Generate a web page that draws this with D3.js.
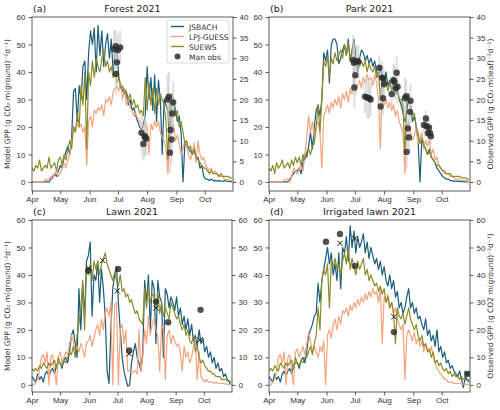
<!DOCTYPE html>
<html><head><meta charset="utf-8">
<script src="https://cdn.jsdelivr.net/npm/d3@7"></script>
<style>body{margin:0;background:#fff}svg{font-family:"DejaVu Sans",sans-serif}</style>
</head><body><svg id="c" width="500" height="410"></svg>
<script>
// ---- data: sampled every 2 days from Apr 1 (day 0) ----
const days = d3.range(0, 213, 2);
const monthTicks = [0, 30, 61, 91, 122, 153, 183];
const monthLabels = ["Apr","May","Jun","Jul","Aug","Sep","Oct"];
const leftTicks = [0,10,20,30,40,50,60];
const rightTicks40 = [0,5,10,15,20,25,30,35,40];
const rightTicks60 = [0,10,20,30,40,50,60];

const forestJSBACH = [0,0,0,0,0,0,0,0,0,0, 1,2,3,2,4, 6,5,9,11,13, 10,16,33,34,22, 35,30,42,44,30, 47,55,50,56,40, 57,46,55,42,50, 54,45,52,40,47, 49,38,35,33,34, 32,28,30,26,27, 24,22,20,19,21, 24,42,30,38,26, 39,22,37,30,10, 30,28,26,12,32, 30,26,22,24,18, 0,14,13,12,11, 10,12,8,9,5, 6,2,1,1,0.5, 1,0.5,0.5,0.3,0.5, 0.3,0.2,0.5,0.3,0.2,0.1,0];
const forestLPJ = [0,0,0,0,0,0,0,1,0.5,1, 2,1,3,4,2, 3,5,7,5,8, 10,14,20,19,21, 20,21,18,20,6, 22,24,20,26,25, 27,26,28,24,30, 29,31,28,33,34, 35,33,36,30,34, 28,30,27,26,24, 25,23,22,21,20, 22,20,10,21,19, 22,20,22,18,16, 15,12,3,18,20, 21,15,17,14,10, 12,15,13,10,8, 11,14,7,15,10, 8,9,6,5,4, 5,3,4,3,2, 2,2,1,1,1,0.5,0.5];
const forestSUEWS = [5,4,6,5,8,4,5,6,5,9, 5,6,7,4,8, 9,6,10,8,12, 15,12,20,18,25, 20,35,28,40,12, 40,35,44,38,45, 42,40,45,48,42, 44,40,42,38,40, 36,38,34,35,32, 33,30,32,28,30, 27,28,25,26,24, 38,26,36,28,34, 25,34,28,32,30, 28,22,8,30,32, 29,24,26,20,22, 18,14,15,12,13, 10,12,9,8,7, 6,5,5,4,3, 4,3,3,3,2, 3,2,2,2,2,1.5,1.5];
const forestObsDay = [87,88.7,91,93.5,90,89, 116,118,119.5,121,120, 143.7,145,149.6,148.6,146.9,147.9,146.2];
const forestObsVal = [32.2,32.9,32,32.6,29,26.2, 11.9,9.2,11.1,10.5,10.8, 20,20.7,19.3,16.6,12.6,10.3,7.1];
const forestObsErr = [4.5,4,4,4,5,5, 5,4,5,4,4, 6,6,5,5,6,6,5];

const parkJSBACH = [0,0,0,0,0,0,0,0,0,0, 0,1,2,3,4, 4,5,3,7,10, 9,13,18,12,20, 26,28,24,30,47, 44,48,36,50,52, 52,50,43,45,48, 50,46,52,44,48, 52,46,40,45,48, 47,44,46,43,45, 42,44,40,38,42, 38,36,40,35,37, 33,38,32,34,30, 28,25,22,26,30, 28,22,24,20,15, 0,16,14,12,10, 12,9,8,7,5, 4,3,2,1.5,1, 1,0.5,0.5,0.3,0.3, 0.2,0.2,0.1,0.1,0,0,0];
const parkLPJ = [0,0,0,0,0,0,0,0,0.5,1, 1,0,2,5,4, 3,5,6,4,10, 16,24,18,22,16, 20,22,18,5,24, 26,28,25,29,27, 30,28,31,27,32, 30,33,29,34,32, 36,33,35,37,34, 38,36,39,37,38, 35,39,36,30,12, 32,28,30,27,29, 26,28,24,26,22, 20,18,3,20,22, 18,15,17,20,14, 16,18,12,15,13, 15,10,12,8,9, 6,5,4,3,3, 3,2,2,1.5,1, 1,1,0.5,0.5,0.5,0.3,0.3];
const parkSUEWS = [5,4,6,3,7,5,6,8,5,6, 7,5,8,6,9, 7,9,6,10,8, 11,12,10,13,14, 20,28,18,30,44, 42,46,38,45,43, 47,44,46,48,45, 50,46,51,44,48, 46,43,45,42,44, 42,44,40,43,41, 40,42,38,40,30, 38,35,37,33,36, 34,36,32,33,30, 30,28,10,30,32, 28,24,25,20,18, 14,16,13,12,10, 11,9,8,7,6, 6,5,4,4,3, 3,3,2,2,2, 2,2,1.5,1.5,1.5,1,1];
const parkObsDay = [89.3,90,91.5,90.4,92.8,94.6, 101.7,104.2,106,107.7, 116.9,118.3,119.7,120.8,121.8,121.1, 130,131.8,132.8,134.2,135.3,136.3, 144,145.4,146,147.2,148.2,150,149.3, 164.2,166.3,167,168.4,169.5,170.6,171.6];
const parkObsVal = [29.6,28.9,25.9,22.9,29.2,29.2, 20.7,20.5,20.3,20, 27.7,18.3,25.3,20.3,23.7,25.1, 21.3,24.7,24.3,22.7,26.5,23.1, 20.3,20.8,7.3,13,10.8,19.7,17, 13.8,15.4,13.5,11.8,13.2,11.9,11.1];
const parkObsErr = [6,5,5,5,4,4, 4,5,5,4, 3,4,4,4,3,3, 3,4,4,3,4,4, 5,4,4,3,3,4,3, 2,2,2,2,2,2,2];

const lawnJSBACH = [3,2,1,4,2,3,1,4,5,3, 5,6,4,7,8, 8,6,9,10,8, 12,18,20,15,10, 35,20,37,25,45, 47,52,25,40,38, 45,30,42,35,25, 5,0.5,20,35,40, 43,30,20,10,5, 2,-0.5,0,8,12, 15,10,8,5,12, 38,30,40,20,38, 35,15,38,32,30, 10,35,33,28,32, 30,27,32,25,28, 22,25,20,24,18, 22,16,18,14,20, 15,17,12,14,10, 12,8,10,6,8, 5,6,3,4,2,1,0];
const lawnLPJ = [0,0,1,2,5,10,11,8,12,0, 10,11,5,0,10, 12,8,10,12,11, 15,18,16,12,14, 12,15,13,10,15, 16,18,14,17,20, 22,18,24,20,26, 28,25,30,0,29, 30,0,20,22,15, 20,5,5,4,5, 5,4,20,5,10, 20,15,25,18,22, 24,20,18,5,22, 20,2,18,20,15, 18,16,14,15,12, 5,14,10,12,8, 10,14,16,2,12, 3,2,1,2,1, 1,1,0.5,1,0.5, 0.5,0.5,0.5,0.3,0.3,0.2,0.2];
const lawnSUEWS = [6,5,6,5,7,6,8,7,6,8, 7,8,9,6,10, 8,7,9,8,10, 12,11,14,10,18, 22,28,38,20,42, 40,44,38,45,42, 45,40,44,46,48, 44,42,40,38,41, 38,36,40,34,35, 32,33,30,31,28, 26,27,24,23,22, 35,28,36,30,33, 32,28,34,26,30, 25,28,26,24,30, 28,26,24,25,22, 20,22,18,20,16, 15,18,12,14,10, 8,9,7,6,5, 5,4,4,3,3, 3,2,2,2,1.5,1.5,1];
const lawnObsDay = [60,91.8,103.5,132,145,179.5];
const lawnObsVal = [41.6,42.2,12.5,30.3,22.8,27.3];
const lawnCrossDay = [60.5,75.3,90.8,103.6,132,179];
const lawnCrossVal = [42.4,45.3,34.2,11.3,27.9,16.4];

const irrJSBACH = [3,2,1,4,2,3,1,4,5,3, 5,6,4,7,8, 8,6,9,10,8, 12,18,20,22,25, 26,37,30,38,42, 46,50,44,48,40, 44,38,48,35,50, 48,54,45,58,50, 56,48,54,50,52, 55,48,52,46,50, 47,44,46,42,45, 40,43,38,36,40, 35,38,32,34,28, 30,26,28,32,35, 28,30,26,28,24, 25,22,20,24,18, 20,16,18,14,20, 12,14,10,12,8, 9,6,7,5,4, 3,5,2,-1,3,2,1];
const irrLPJ = [0,0,1,2,5,10,11,8,12,0, 10,11,5,0,12, 13,10,12,14,11, 15,19,16,12,14, 12,10,14,12,16, 0,18,20,17,22, 24,20,25,22,27, 26,28,25,29,27, 30,28,31,29,32, 30,33,31,34,32, 35,33,34,30,35, 15,32,30,33,28, 30,26,28,24,22, 20,22,2,18,20, 18,16,19,15,17, 14,16,12,15,13, 12,14,10,8,6, 5,4,3,2,2, 1,1,1,0.5,0.5, 0.5,0.5,0.3,0.3,0.3,0.2,0.2];
const irrSUEWS = [5,6,5,7,6,5,8,7,6,8, 7,8,9,6,10, 8,7,9,8,10, 10,12,14,11,15, 18,28,20,38,42, 40,44,28,45,43, 46,42,44,40,45, 48,44,50,42,46, 43,40,45,42,44, 46,40,42,38,40, 38,36,37,34,36, 33,35,30,32,28, 30,26,15,28,25, 24,26,22,25,28, 24,22,20,22,18, 16,18,14,15,12, 13,10,12,8,9, 7,8,6,5,6, 4,5,3,4,3, 3,2,3,2,2,1.5,2];
const irrObsDay = [60.4,75.2,91.1,132.4,210];
const irrObsVal = [52.1,54.9,43.3,19.2,4];
const irrCrossDay = [75.2,91.1,132.4,210];
const irrCrossVal = [51.5,53.3,24.8,4];

const seriesNames = ["JSBACH","LPJ-GUESS","SUEWS"];
const colors = {"JSBACH":"#1c5d7a","LPJ-GUESS":"#f4a37c","SUEWS":"#8b8b2c"};

// ---- drawing ----
const svg = d3.select("#c");
const panels = [
  {lab:"(a)", title:"Forest 2021", L:32, R:233, T:17, B:191, ymin:-3.3, rmax:40, rticks:rightTicks40,
   series:[forestJSBACH,forestLPJ,forestSUEWS], obs:{d:forestObsDay,v:forestObsVal,e:forestObsErr}, leftLabel:true, legend:true},
  {lab:"(b)", title:"Park 2021", L:269, R:470, T:17, B:191, ymin:-3.3, rmax:40, rticks:rightTicks40,
   series:[parkJSBACH,parkLPJ,parkSUEWS], obs:{d:parkObsDay,v:parkObsVal,e:parkObsErr}, rightLabel:"Observed GPP (g CO\u2082 m(leaf)\u207B\u00B2d\u207B\u00B9)"},
  {lab:"(c)", title:"Lawn 2021", L:32, R:232, T:220, B:392, ymin:-2.6, rmax:60, rticks:rightTicks60,
   series:[lawnJSBACH,lawnLPJ,lawnSUEWS], obs:{d:lawnObsDay,v:lawnObsVal}, cross:{d:lawnCrossDay,v:lawnCrossVal}, leftLabel:true},
  {lab:"(d)", title:"Irrigated lawn 2021", L:269, R:470, T:220, B:392, ymin:-2.6, rmax:60, rticks:rightTicks60,
   series:[irrJSBACH,irrLPJ,irrSUEWS], obs:{d:irrObsDay,v:irrObsVal}, cross:{d:irrCrossDay,v:irrCrossVal}, rightLabel:"Observed GPP (g CO2 m(ground)\u207B\u00B2d\u207B\u00B9)"}
];

function styleAxis(g){
  g.selectAll("path.domain").remove();
  g.selectAll(".tick line").attr("stroke","#333").attr("stroke-width",0.8);
  g.selectAll(".tick text").attr("fill","#333").style("font-size","8px");
}

panels.forEach((p,pi)=>{
  const x = d3.scaleLinear().domain([0,213]).range([p.L,p.R]);
  const y = d3.scaleLinear().domain([p.ymin,60]).range([p.B,p.T]);
  const yR = d3.scaleLinear().domain([p.ymin*p.rmax/60,p.rmax]).range([p.B,p.T]);
  const g = svg.append("g");
  const clipId = "clip"+pi;
  svg.append("clipPath").attr("id",clipId).append("rect")
    .attr("x",p.L).attr("y",p.T).attr("width",p.R-p.L).attr("height",p.B-p.T);
  const plot = g.append("g").attr("clip-path",`url(#${clipId})`);

  // model lines
  const line = d3.line().x((d,i)=>x(days[i])).y(d=>y(d));
  p.series.forEach((s,si)=>{
    plot.append("path").datum(s).attr("d",line).attr("fill","none")
      .attr("stroke",colors[seriesNames[si]]).attr("stroke-width",1.2).attr("stroke-linejoin","round");
  });

  // error bars
  if(p.obs.e){
    plot.selectAll(".err").data(p.obs.d).enter().append("line")
      .attr("x1",(d)=>x(d)).attr("x2",(d)=>x(d))
      .attr("y1",(d,i)=>yR(p.obs.v[i]-p.obs.e[i])).attr("y2",(d,i)=>yR(p.obs.v[i]+p.obs.e[i]))
      .attr("stroke","#c8c8c8").attr("stroke-opacity",0.55).attr("stroke-width",2.2);
  }
  // obs circles
  plot.selectAll(".obs").data(p.obs.d).enter().append("circle")
    .attr("cx",d=>x(d)).attr("cy",(d,i)=>yR(p.obs.v[i])).attr("r",3.2)
    .attr("fill","#2b2b2b").attr("fill-opacity",0.82);
  // crosses
  if(p.cross){
    p.cross.d.forEach((d,i)=>{
      const cx=x(d), cy=yR(p.cross.v[i]), s=2.6;
      plot.append("path").attr("d",`M${cx-s},${cy-s}L${cx+s},${cy+s}M${cx-s},${cy+s}L${cx+s},${cy-s}`)
        .attr("stroke","#1a1a1a").attr("stroke-width",1);
    });
  }

  // frame
  g.append("rect").attr("x",p.L).attr("y",p.T).attr("width",p.R-p.L).attr("height",p.B-p.T)
    .attr("fill","none").attr("stroke","#333").attr("stroke-width",0.8);

  // axes
  const ax = g.append("g").attr("transform",`translate(0,${p.B})`)
    .call(d3.axisBottom(x).tickValues(monthTicks).tickFormat((d,i)=>monthLabels[i]).tickSize(3.5).tickPadding(2));
  styleAxis(ax);
  const al = g.append("g").attr("transform",`translate(${p.L},0)`)
    .call(d3.axisLeft(y).tickValues(leftTicks).tickSize(3.5).tickPadding(3));
  styleAxis(al);
  const ar = g.append("g").attr("transform",`translate(${p.R},0)`)
    .call(d3.axisRight(yR).tickValues(p.rticks).tickSize(3.5).tickPadding(3));
  styleAxis(ar);

  // titles
  g.append("text").attr("x",(p.L+p.R)/2).attr("y",p.T-5).attr("text-anchor","middle")
    .style("font-size","9.5px").attr("fill","#222").text(p.title);
  g.append("text").attr("x",p.L+1).attr("y",p.T-5).style("font-size","9.5px").attr("fill","#222").text(p.lab);

  if(p.leftLabel){
    g.append("text").attr("transform",`translate(10,${(p.T+p.B)/2}) rotate(-90)`).attr("text-anchor","middle")
      .style("font-size","7.5px").attr("fill","#333").text("Model GPP (g CO\u2082 m(ground)\u207B\u00B2d\u207B\u00B9)");
  }
  if(p.rightLabel){
    g.append("text").attr("transform",`translate(493,${(p.T+p.B)/2}) rotate(-90)`).attr("text-anchor","middle")
      .style("font-size","7.5px").attr("fill","#333").text(p.rightLabel);
  }

  if(p.legend){
    const lg = g.append("g");
    lg.append("rect").attr("x",167).attr("y",20).attr("width",62).attr("height",43).attr("rx",2)
      .attr("fill","#fff").attr("fill-opacity",0.85).attr("stroke","#d0d0d0").attr("stroke-width",0.8);
    seriesNames.forEach((n,i)=>{
      const yy = 26.5 + i*10;
      lg.append("line").attr("x1",171).attr("x2",184).attr("y1",yy).attr("y2",yy)
        .attr("stroke",colors[n]).attr("stroke-width",1.4);
      lg.append("text").attr("x",189).attr("y",yy+3).style("font-size","7.6px").attr("fill","#333").text(n);
    });
    lg.append("circle").attr("cx",177.5).attr("cy",56.5).attr("r",3).attr("fill","#2b2b2b").attr("fill-opacity",0.85);
    lg.append("text").attr("x",189).attr("y",59.5).style("font-size","7.6px").attr("fill","#333").text("Man obs");
  }
});
</script></body></html>
